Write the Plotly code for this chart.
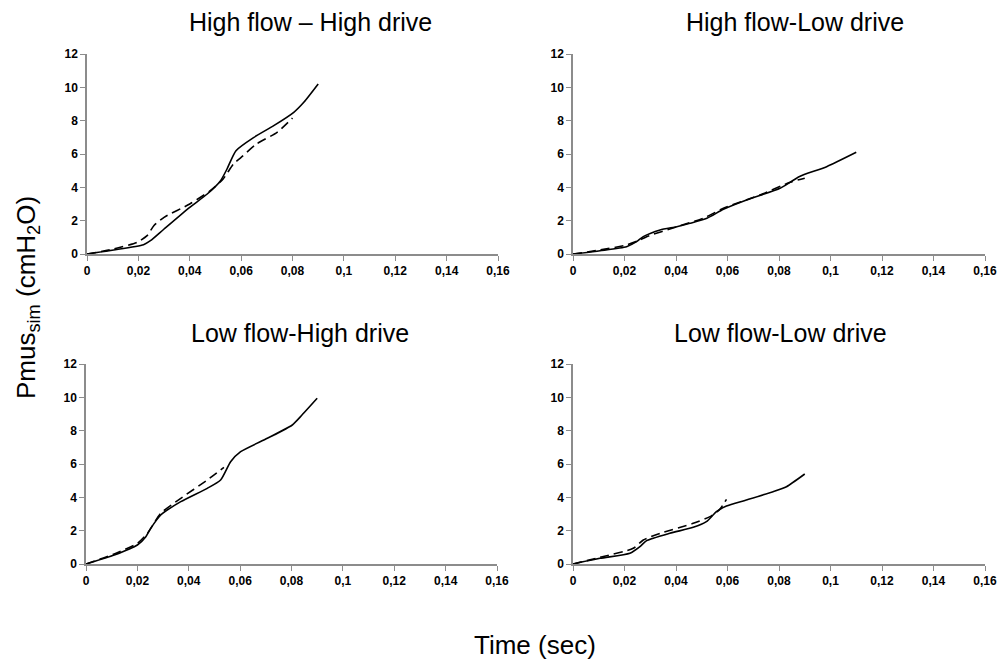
import plotly.graph_objects as go

# panel titles
titles = ["High flow \u2013 High drive", "High flow-Low drive",
          "Low flow-High drive", "Low flow-Low drive"]

# High flow - High drive
hh_solid_t = [0, 0.0104, 0.022, 0.0247, 0.030, 0.040, 0.0468, 0.052, 0.0545, 0.058,
              0.065, 0.0727, 0.0805, 0.0844, 0.090]
hh_solid_p = [0, 0.24, 0.56, 0.8, 1.5, 2.8, 3.6, 4.4, 5.1, 6.2, 7.0, 7.7, 8.5, 9.1, 10.2]
hh_dash_t = [0, 0.0104, 0.0195, 0.0234, 0.026, 0.030, 0.040, 0.048, 0.053, 0.057,
             0.060, 0.066, 0.074, 0.080]
hh_dash_p = [0, 0.3, 0.7, 1.1, 1.7, 2.2, 3.0, 3.8, 4.5, 5.4, 5.8, 6.6, 7.3, 8.16]

# High flow - Low drive
hl_solid_t = [0, 0.0105, 0.0208, 0.0247, 0.0273, 0.0338, 0.0403, 0.0454, 0.052, 0.0584,
              0.0674, 0.0804, 0.0843, 0.0880, 0.0985, 0.110]
hl_solid_p = [0, 0.2, 0.44, 0.74, 1.04, 1.44, 1.64, 1.84, 2.14, 2.68, 3.24, 3.94,
              4.3, 4.65, 5.24, 6.1]
hl_dash_t = [0, 0.0105, 0.0208, 0.026, 0.0286, 0.0403, 0.0506, 0.0584, 0.0726, 0.0843,
             0.090]
hl_dash_p = [0, 0.24, 0.54, 0.84, 1.04, 1.64, 2.14, 2.74, 3.54, 4.3, 4.55]

# Low flow - High drive
lh_solid_t = [0, 0.011, 0.020, 0.0233, 0.0252, 0.0291, 0.0369, 0.0472, 0.0524, 0.0563,
              0.0602, 0.0706, 0.0803, 0.0835, 0.090]
lh_solid_p = [0, 0.54, 1.14, 1.64, 2.14, 2.94, 3.74, 4.54, 5.04, 6.14, 6.74, 7.54,
              8.34, 8.84, 9.94]
lh_dash_t = [0, 0.011, 0.020, 0.0239, 0.0291, 0.0369, 0.0472, 0.0537]
lh_dash_p = [0, 0.6, 1.24, 1.84, 3.04, 3.94, 5.04, 5.8]

# Low flow - Low drive
ll_solid_t = [0, 0.0105, 0.0221, 0.026, 0.0286, 0.0376, 0.0467, 0.0518, 0.0557, 0.0596,
              0.0673, 0.0777, 0.0829, 0.090]
ll_solid_p = [0, 0.34, 0.64, 1.04, 1.4, 1.84, 2.2, 2.54, 3.14, 3.48, 3.84, 4.34, 4.64, 5.4]
ll_dash_t = [0, 0.0105, 0.0234, 0.0273, 0.0338, 0.0467, 0.0532, 0.057, 0.0596]
ll_dash_p = [0, 0.4, 0.94, 1.44, 1.84, 2.44, 2.84, 3.28, 3.88]

x_ticks = [0, 0.02, 0.04, 0.06, 0.08, 0.1, 0.12, 0.14, 0.16]
x_ticklabels = ["0", "0,02", "0,04", "0,06", "0,08", "0,1", "0,12", "0,14", "0,16"]
y_ticks = [0, 2, 4, 6, 8, 10, 12]

panels = [
    (hh_solid_t, hh_solid_p, hh_dash_t, hh_dash_p),
    (hl_solid_t, hl_solid_p, hl_dash_t, hl_dash_p),
    (lh_solid_t, lh_solid_p, lh_dash_t, lh_dash_p),
    (ll_solid_t, ll_solid_p, ll_dash_t, ll_dash_p),
]

FONT = "Liberation Sans, Arial, sans-serif"
W, H = 1000, 659
# pixel boxes of each plot area: left, right, top, bottom
boxes = [(87, 498, 54, 254), (573, 985, 54, 254), (86, 497, 364, 564), (573, 985, 364, 564)]
title_pos = [(310, 22), (795, 22), (300, 333), (780, 333)]

fig = go.Figure()
tick_font = dict(family=FONT, size=12, color="black", weight="bold")

for i, (st, sp, dt, dp) in enumerate(panels):
    n = "" if i == 0 else str(i + 1)
    fig.add_trace(go.Scatter(x=st, y=sp, mode="lines", line=dict(color="black", width=1.6,
                             shape="spline", smoothing=0.6), xaxis="x" + n, yaxis="y" + n,
                             showlegend=False))
    fig.add_trace(go.Scatter(x=dt, y=dp, mode="lines", line=dict(color="black", width=1.6,
                             dash="9px,5px", shape="spline", smoothing=0.6),
                             xaxis="x" + n, yaxis="y" + n, showlegend=False))
    l, r, t, b = boxes[i]
    fig.layout["xaxis" + n] = dict(
        domain=[l / W, r / W], range=[0, 0.16], anchor="y" + n, automargin=False,
        tickvals=x_ticks, ticktext=x_ticklabels, ticks="outside", ticklen=5,
        tickcolor="#8c8c8c", showline=True, linecolor="#8c8c8c", linewidth=1.5,
        showgrid=False, zeroline=False, tickfont=tick_font,
    )
    fig.layout["yaxis" + n] = dict(
        domain=[1 - b / H, 1 - t / H], range=[0, 12], anchor="x" + n, automargin=False,
        tickvals=y_ticks, ticks="outside", ticklen=5,
        tickcolor="#8c8c8c", showline=True, linecolor="#8c8c8c", linewidth=1.5,
        showgrid=False, zeroline=False, tickfont=tick_font,
    )
    tx, ty = title_pos[i]
    fig.add_annotation(text=titles[i], x=tx / W, y=1 - ty / H, xref="paper", yref="paper",
                       showarrow=False, xanchor="center", yanchor="middle",
                       font=dict(family=FONT, size=25, color="black"))

fig.add_annotation(text="Time (sec)", x=535 / W, y=1 - 645 / H, xref="paper", yref="paper",
                   showarrow=False, xanchor="center", yanchor="middle",
                   font=dict(family=FONT, size=26, color="black"))
fig.add_annotation(text="Pmus<sub>sim</sub> (cmH<sub>2</sub>O)", x=28 / W, y=1 - 298 / H,
                   xref="paper", yref="paper", showarrow=False, textangle=-90,
                   xanchor="center", yanchor="middle",
                   font=dict(family=FONT, size=26, color="black"))

fig.update_layout(width=W, height=H, margin=dict(l=0, r=0, t=0, b=0),
                  paper_bgcolor="white", plot_bgcolor="white")
# drop the default page margin so the figure sits at the window's corner
fig.write_html("out.html", config={"displayModeBar": False},
               post_script="document.body.style.margin='0';")
